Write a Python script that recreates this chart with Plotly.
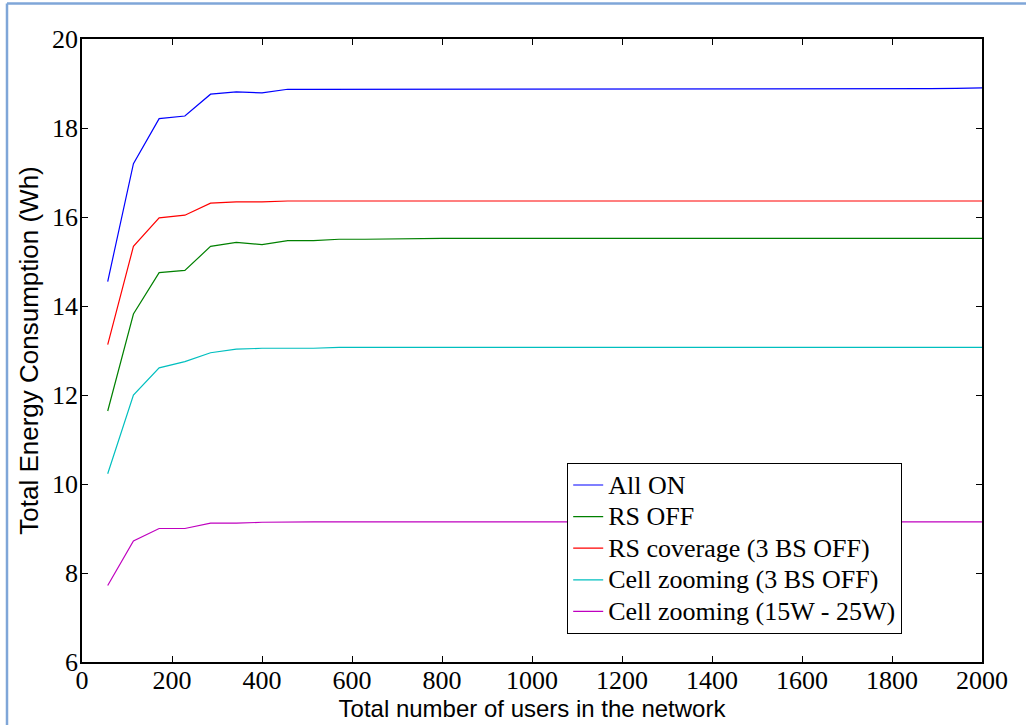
import numpy as np
import plotly.graph_objects as go

n_users = [round(2000 * k / 35, 2) for k in range(1, 36)]

all_on = [14.55, 17.20, 18.21, 18.27, 18.76, 18.81, 18.79, 18.87] + [18.87] * 22 + [18.875, 18.88, 18.885, 18.89, 18.90]
rs_off = [11.64, 13.82, 14.75, 14.80, 15.34, 15.43, 15.38, 15.47, 15.47, 15.50, 15.50, 15.51, 15.51, 15.52, 15.52] + [15.52] * 20
rs_cov = [13.13, 15.34, 15.98, 16.04, 16.31, 16.34, 16.34, 16.36] + [16.36] * 27
cz_3bs = [10.23, 12.00, 12.61, 12.75, 12.95, 13.03, 13.05, 13.05, 13.05, 13.07] + [13.07] * 25
cz_15w = [7.72, 8.72, 9.00, 9.00, 9.12, 9.12, 9.14, 9.15] + [9.15] * 27

series = [
    ("All ON", all_on, "#0000ff"),
    ("RS OFF", rs_off, "#008000"),
    ("RS coverage (3 BS OFF)", rs_cov, "#ff0000"),
    ("Cell zooming (3 BS OFF)", cz_3bs, "#00bfbf"),
    ("Cell zooming (15W - 25W)", cz_15w, "#bf00bf"),
]

x_ticks = list(range(0, 2001, 200))
y_ticks = list(range(6, 21, 2))

fig = go.Figure()
for name, vals, col in series:
    fig.add_trace(go.Scatter(x=n_users, y=vals, mode="lines",
                             name="<span style='font-size:26px'>" + name + "</span>",
                             line=dict(color=col, width=1.2)))

serif = "Liberation Serif"
sans = "Liberation Sans"

axis_common = dict(showgrid=False, zeroline=False, showline=True, linecolor="black",
                   linewidth=1.5, mirror="ticks", ticks="inside", ticklen=6, automargin=False,
                   tickcolor="black", tickfont=dict(family=serif, size=26, color="black"))

fig.update_xaxes(range=[0, 2000], tickvals=x_ticks, **axis_common, ticklabelstandoff=-6,
                 title=dict(text="Total number of users in the network",
                            font=dict(family=sans, size=24, color="black"), standoff=0))
fig.update_yaxes(range=[6, 20], tickvals=y_ticks, **axis_common, ticklabelstandoff=-3,
                 title=dict(text="Total Energy Consumption (Wh)",
                            font=dict(family=sans, size=26, color="black"), standoff=6))

W, H = 1026, 725
L, R, T, B = 82, 44, 39, 63
pw, ph = W - L - R, H - T - B

def px_x(p):
    return (p - L) / pw

def px_y(p):
    return (H - B - p) / ph

fig.add_shape(type="line", xref="paper", yref="paper", x0=px_x(7), x1=px_x(1030),
              y0=px_y(3.5), y1=px_y(3.5), line=dict(color="#7fa6d8", width=2.5))
fig.add_shape(type="line", xref="paper", yref="paper", x0=px_x(7), x1=px_x(7),
              y0=px_y(3.5), y1=px_y(730), line=dict(color="#7fa6d8", width=2.5))

fig.update_layout(
    width=W, height=H,
    margin=dict(l=L, r=R, t=T, b=B, autoexpand=False),
    paper_bgcolor="white", plot_bgcolor="white",
    showlegend=True,
    legend=dict(x=px_x(567), y=px_y(463), xanchor="left", yanchor="top",
                bgcolor="white", bordercolor="black", borderwidth=1.2,
                font=dict(family=serif, size=22, color="black"),
                itemwidth=30, tracegroupgap=0),
)

fig.write_html("out.html")
